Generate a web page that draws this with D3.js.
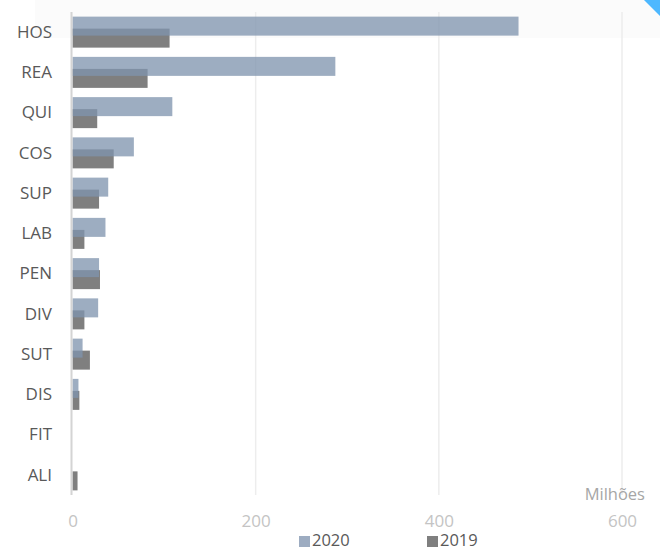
<!DOCTYPE html>
<html><head><meta charset="utf-8">
<script src="https://cdn.jsdelivr.net/npm/d3@7"></script>
<style>body{margin:0;background:#fff}svg{display:block}</style>
</head><body>
<svg id="c" width="660" height="551"></svg>
<script>
const categories = ["HOS","REA","QUI","COS","SUP","LAB","PEN","DIV","SUT","DIS","FIT","ALI"];
const values2020 = [487, 287, 109, 67, 39, 36, 29, 28, 11, 6.5, 0, 0];
const values2019 = [106, 82, 27, 45, 29, 13, 30, 13, 19, 7.5, 0, 5.5];
const ticks = [0, 200, 400, 600];
const seriesNames = ["2020", "2019"];

const svg = d3.select("#c");
const font = "Open Sans, sans-serif";
const x = d3.scaleLinear().domain([0, 600]).range([72.5, 622]);
const y = d3.scaleBand().domain(categories).range([12, 495]).paddingInner(0).paddingOuter(0);

// faint background panel (artifact)
svg.append("rect").attr("x", 35).attr("y", 0).attr("width", 625).attr("height", 38).attr("fill", "#fbfbfb");

// grid
svg.append("g").selectAll("line").data(ticks.slice(1)).join("line")
  .attr("x1", d => x(d)).attr("x2", d => x(d)).attr("y1", 12).attr("y2", 495)
  .attr("stroke", "#ededed").attr("stroke-width", 1.5);

const bw = 19;
// 2019 bars (below)
svg.append("g").selectAll("rect").data(categories).join("rect")
  .attr("x", x(0)).attr("y", d => y(d) + y.bandwidth()/2 - 3.5)
  .attr("width", (d,i) => x(values2019[i]) - x(0)).attr("height", bw)
  .attr("fill", "#7f7f7f");
// 2020 bars (on top, semi transparent)
svg.append("g").selectAll("rect").data(categories).join("rect")
  .attr("x", x(0)).attr("y", d => y(d) + y.bandwidth()/2 - 15.5)
  .attr("width", (d,i) => x(values2020[i]) - x(0)).attr("height", bw)
  .attr("fill", "#8094ae").attr("fill-opacity", 0.77);

// axis line
svg.append("line").attr("x1", x(0)-1).attr("x2", x(0)-1).attr("y1", 12).attr("y2", 495)
  .attr("stroke", "#d4d4d4").attr("stroke-width", 2);

// category labels
const yAxis = d3.axisLeft(y).tickSize(0).tickPadding(0);
const ya = svg.append("g").attr("transform", "translate(52,0)").call(yAxis);
ya.select(".domain").remove();
ya.selectAll("text").attr("font-family", font).attr("font-size", 17).attr("fill", "#595959").attr("dy", "0.34em");

// x tick labels
const xAxis = d3.axisBottom(x).tickValues(ticks).tickSize(0).tickPadding(0);
const xa = svg.append("g").attr("transform", "translate(0,515)").call(xAxis);
xa.select(".domain").remove();
xa.selectAll("text").attr("font-family", font).attr("font-size", 17).attr("fill", "#c4c4c4");

svg.append("text").attr("x", 645).attr("y", 500).attr("text-anchor", "end")
  .attr("font-family", font).attr("font-size", 16.5).attr("fill", "#a6a6a6").text("Milhões");

// legend
const legColors = ["#9dacc1", "#7f7f7f"];
const legX = [299, 427];
const lg = svg.append("g");
seriesNames.forEach((s, i) => {
  lg.append("rect").attr("x", legX[i]).attr("y", 536).attr("width", 11).attr("height", 11).attr("fill", legColors[i]);
  lg.append("text").attr("x", legX[i] + 13).attr("y", 546).attr("font-family", font).attr("font-size", 16.5)
    .attr("fill", "#595959").text(s);
});

// corner ribbon
svg.append("polygon").attr("points", "644,0 660,0 660,16").attr("fill", "#4db8ff");
</script>
</body></html>
